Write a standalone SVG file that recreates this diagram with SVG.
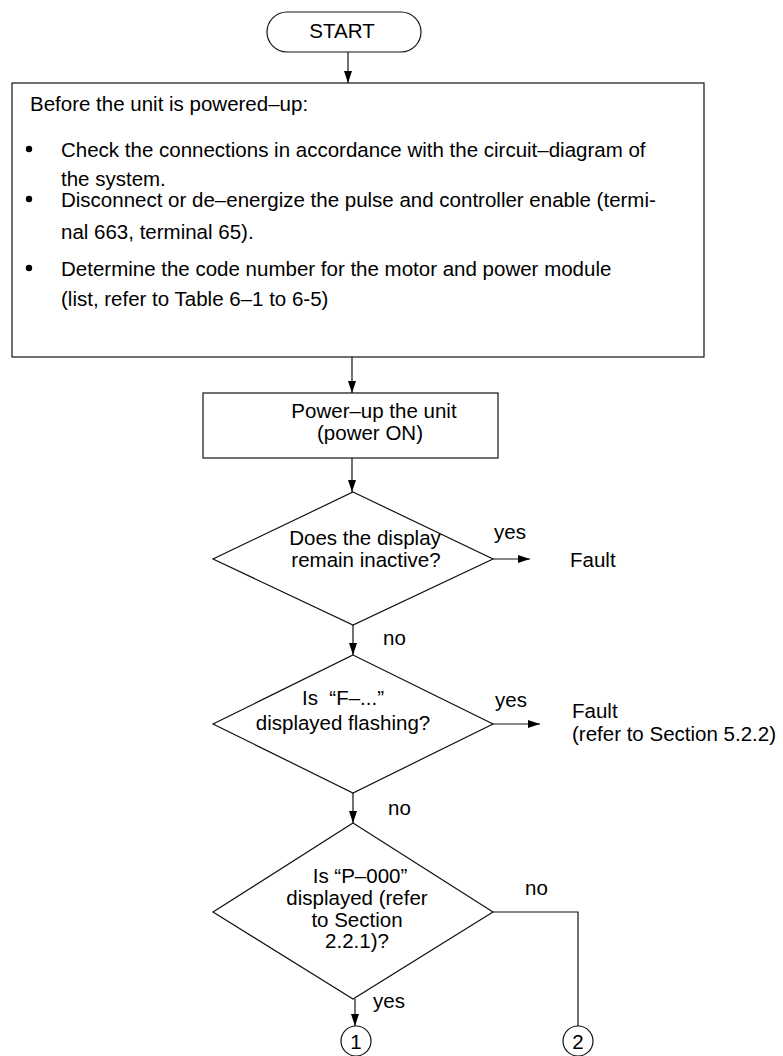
<svg xmlns="http://www.w3.org/2000/svg" width="783" height="1056" viewBox="0 0 783 1056">
<defs>
<marker id="ah" markerUnits="userSpaceOnUse" markerWidth="12" markerHeight="8" refX="12" refY="4" orient="auto">
<path d="M0,0 L12,4 L0,8 z" fill="#000"/>
</marker>
<style>
text{font-family:"Liberation Sans",Arial,Helvetica,sans-serif;font-size:20.5px;fill:#000}
.c{text-anchor:middle}
.shape{fill:#fff;stroke:#111;stroke-width:1.2}
.conn{fill:none;stroke:#111;stroke-width:1.2}
.arr{marker-end:url(#ah)}
</style>
</defs>
<rect width="783" height="1056" fill="#fff"/>

<g id="connectors">
<line class="conn arr" x1="348" y1="52" x2="348" y2="83"/>
<line class="conn arr" x1="352" y1="357" x2="352" y2="393"/>
<line class="conn arr" x1="352" y1="458" x2="352" y2="492"/>
<line class="conn arr" x1="493" y1="559" x2="530" y2="559"/>
<line class="conn arr" x1="353" y1="625" x2="353" y2="655"/>
<line class="conn arr" x1="493" y1="724" x2="540" y2="724"/>
<line class="conn arr" x1="353" y1="793" x2="353" y2="823"/>
<line class="conn arr" x1="355" y1="999" x2="355" y2="1026"/>
<polyline class="conn" points="493,912 578,912 578,1026"/>
<text x="494" y="539">yes</text>
<text x="383" y="645">no</text>
<text x="495" y="707">yes</text>
<text x="388" y="815">no</text>
<text x="525" y="895">no</text>
<text x="373" y="1008">yes</text>
</g>

<g id="start">
<rect class="shape" x="267" y="12" width="154" height="40" rx="20" ry="20"/>
<text class="c" x="342" y="38" style="font-size:20.5px">START</text>
</g>

<g id="prep">
<rect class="shape" x="12" y="83" width="692" height="274"/>
<text x="30" y="111">Before the unit is powered–up:</text>
<circle cx="29" cy="149" r="3.2" fill="#000"/>
<text x="61" y="157">Check the connections in accordance with the circuit–diagram of</text>
<text x="61" y="186">the system.</text>
<circle cx="29" cy="199" r="3.2" fill="#000"/>
<text x="61" y="207">Disconnect or de–energize the pulse and controller enable (termi-</text>
<text x="61" y="239">nal 663, terminal 65).</text>
<circle cx="29" cy="268" r="3.2" fill="#000"/>
<text x="61" y="276">Determine the code number for the motor and power module</text>
<text x="61" y="306">(list, refer to Table 6–1 to 6-5)</text>
</g>

<g id="powerup">
<rect class="shape" x="203" y="393" width="295" height="65"/>
<text class="c" x="374" y="418">Power–up the unit</text>
<text class="c" x="370" y="440">(power ON)</text>
</g>

<g id="d1">
<polygon class="shape" points="353,492 493,559 353,625 213,559"/>
<text class="c" x="365" y="545">Does the display</text>
<text class="c" x="366" y="567">remain inactive?</text>
</g>

<g id="fault1">
<text x="570" y="567">Fault</text>
</g>

<g id="d2">
<polygon class="shape" points="353,655 493,724 353,793 213,724"/>
<text class="c" x="343" y="705">Is &#160;“F–...”</text>
<text class="c" x="343" y="730">displayed flashing?</text>
</g>

<g id="fault2">
<text x="572" y="718">Fault</text>
<text x="572" y="741">(refer to Section 5.2.2)</text>
</g>

<g id="d3">
<polygon class="shape" points="353,823 493,912 353,999 213,912"/>
<text class="c" x="360" y="883">Is “P–000”</text>
<text class="c" x="357" y="905">displayed (refer</text>
<text class="c" x="357" y="927">to Section</text>
<text class="c" x="357" y="948">2.2.1)?</text>
</g>

<g id="c1">
<circle class="shape" cx="356" cy="1041" r="15"/>
<text class="c" x="356" y="1049">1</text>
</g>

<g id="c2">
<circle class="shape" cx="578" cy="1041" r="15"/>
<text class="c" x="578" y="1049">2</text>
</g>
</svg>
